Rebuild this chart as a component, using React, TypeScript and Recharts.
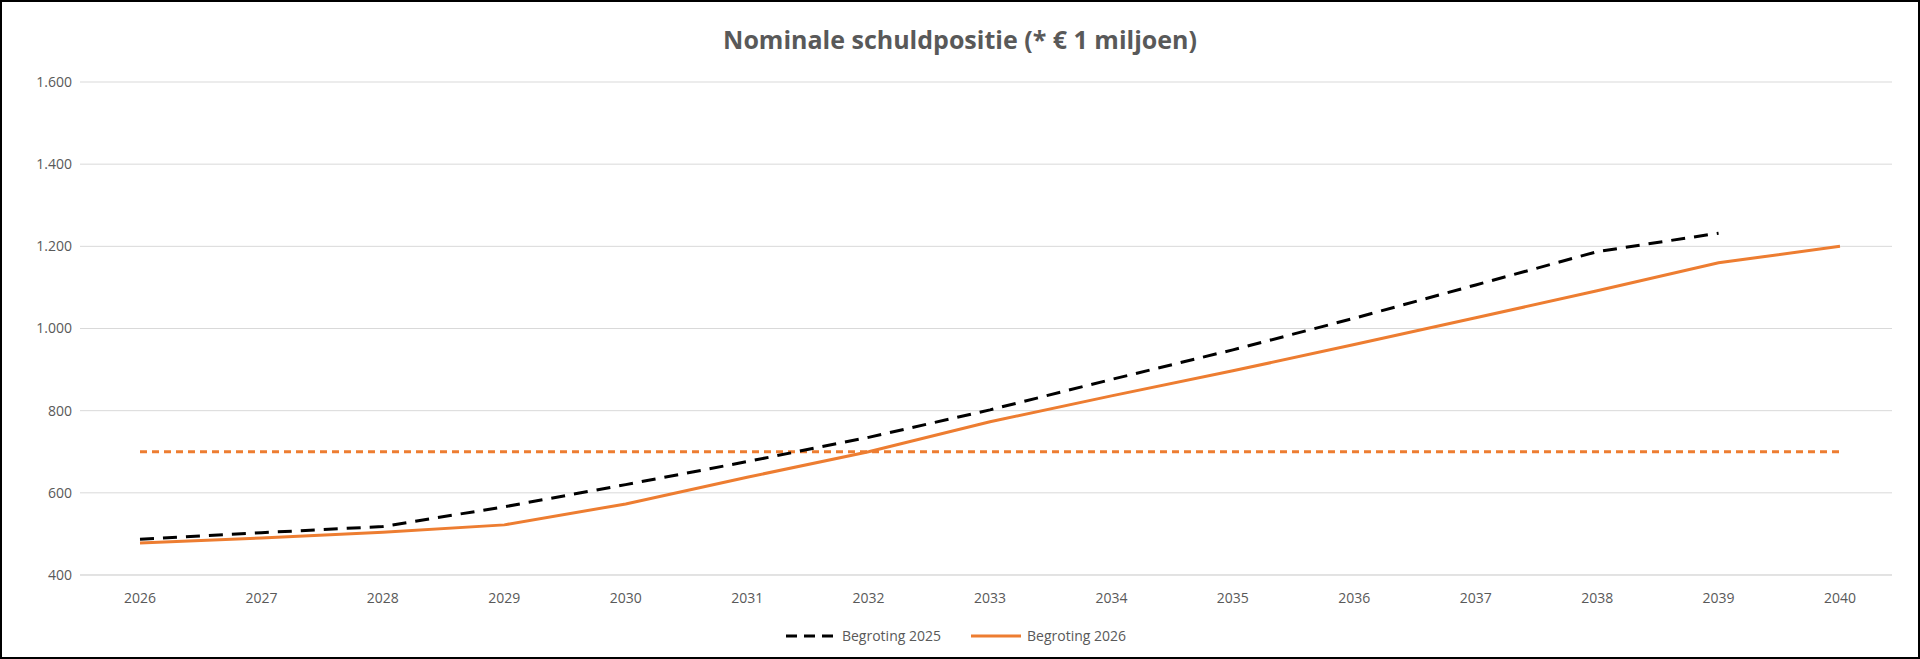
import { LineChart, Line, XAxis, YAxis, CartesianGrid, Legend } from 'recharts'

const years = ['2026', '2027', '2028', '2029', '2030', '2031', '2032', '2033', '2034', '2035', '2036', '2037', '2038', '2039', '2040']
const begroting2025 = [487, 503, 518, 566, 620, 676, 735, 802, 876, 948, 1025, 1106, 1187, 1232, null]
const begroting2026 = [478, 490, 504, 522, 573, 638, 700, 773, 836, 897, 961, 1026, 1092, 1160, 1200]
const grens = [700, 700, 700, 700, 700, 700, 700, 700, 700, 700, 700, 700, 700, 700, 700]
const yTicks = [400, 600, 800, 1000, 1200, 1400, 1600]

const data = years.map((year, i) => ({
  year,
  b2025: begroting2025[i],
  b2026: begroting2026[i],
  grens: grens[i],
}))

const fmt = (v: number) => v.toLocaleString('nl-NL')
const tick = { fontSize: 14, fill: '#595959' }

export default function App() {
  return (
    <div style={{ position: 'fixed', top: 0, left: 0, width: 1920, height: 659, border: '2px solid #000', boxSizing: 'border-box', background: '#fff', fontFamily: '"Open Sans", "Liberation Sans", sans-serif' }}>
      <div style={{ position: 'absolute', top: 20, width: '100%', textAlign: 'center', fontSize: 25, fontWeight: 'bold', color: '#595959' }}>
        Nominale schuldpositie (* € 1 miljoen)
      </div>
      <LineChart width={1916} height={655} data={data} margin={{ top: 80, right: 26, left: 18, bottom: 23 }}>
        <CartesianGrid vertical={false} stroke="#d9d9d9" />
        <XAxis dataKey="year" tick={tick} tickLine={false} axisLine={{ stroke: '#d9d9d9' }} height={40} tickMargin={12} padding={{ left: 60, right: 52 }} />
        <YAxis domain={[400, 1600]} ticks={yTicks} tickFormatter={fmt} tick={tick} tickLine={false} axisLine={false} width={60} />
        <Legend verticalAlign="bottom" wrapperStyle={{ bottom: 12 }}
          content={() => (
            <div style={{ display: 'flex', justifyContent: 'center', gap: 30, fontSize: 14, color: '#595959' }}>
              <span style={{ display: 'flex', alignItems: 'center', gap: 6 }}>
                <svg width={50} height={6}><line x1={0} y1={3} x2={50} y2={3} stroke="#000" strokeWidth={3} strokeDasharray="11 7" /></svg>
                Begroting 2025
              </span>
              <span style={{ display: 'flex', alignItems: 'center', gap: 6 }}>
                <svg width={50} height={6}><line x1={0} y1={3} x2={50} y2={3} stroke="#ED7D31" strokeWidth={3} /></svg>
                Begroting 2026
              </span>
            </div>
          )}
        />
        <Line dataKey="grens" stroke="#ED7D31" strokeWidth={3} strokeDasharray="7 5" dot={false} isAnimationActive={false} />
        <Line dataKey="b2025" stroke="#000" strokeWidth={3} strokeDasharray="14 9" dot={false} isAnimationActive={false} />
        <Line dataKey="b2026" stroke="#ED7D31" strokeWidth={3} dot={false} isAnimationActive={false} />
      </LineChart>
    </div>
  )
}
